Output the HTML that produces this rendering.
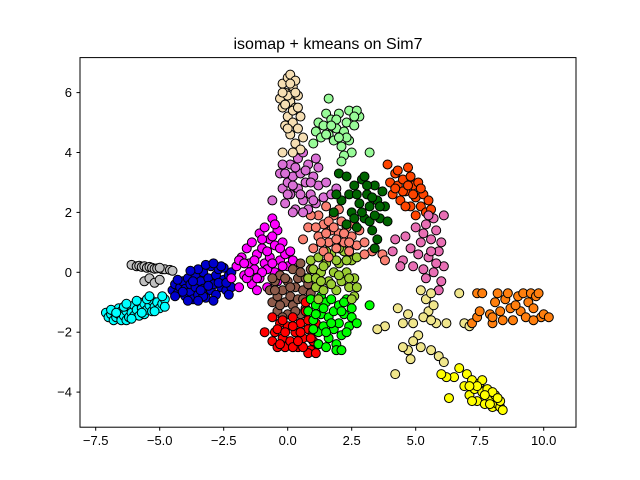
<!DOCTYPE html>
<html><head><meta charset="utf-8"><style>
body{margin:0;background:#fff;}
svg{display:block;font-family:"Liberation Sans","DejaVu Sans",sans-serif;}
</style></head><body>
<svg id="chart" width="640" height="480" viewBox="0 0 640 480">
<rect x="0" y="0" width="640" height="480" fill="#fff"/>
<text x="328" y="49" text-anchor="middle" font-size="16">isomap + kmeans on Sim7</text>
<g id="points"></g>
<rect x="80" y="57.6" width="496" height="369.6" fill="none" stroke="#000" stroke-width="1"/>
<g id="axes"></g>
</svg>
<script>
const xTicks=[-7.5,-5,-2.5,0,2.5,5,7.5,10];
const xTickLabels=["\u22127.5","\u22125.0","\u22122.5","0.0","2.5","5.0","7.5","10.0"];
const yTicks=[-4,-2,0,2,4,6];
const yTickLabels=["\u22124","\u22122","0","2","4","6"];
const clusterNames=["gray","cyan","blue","magenta","brown","red","lime","yellowgreen","salmon","orchid","palegreen","wheat","darkgreen","orangered","hotpink","khaki","yellow","darkorange"];
const clusterColors=["#c0c0c0","#00ffff","#0000cd","#ff00ff","#8b5a4a","#ff0000","#00ff00","#9acd32","#fa8072","#da70d6","#98fb98","#f5deb3","#006400","#ff4500","#e86fb4","#f0e68c","#ffff00","#ff7f0e"];
const gray=[[-6.1,0.25],[-5.9,0.2],[-5.8,0.22],[-5.7,0.18],[-5.6,0.2],[-5.5,0.15],[-5.4,0.18],[-5.3,0.15],[-5.2,0.12],[-5.1,0.13],[-4.9,0.1],[-4.8,0.1],[-4.6,0.08],[-4.5,0.05],[-5.0,0.15],[-5.6,-0.3],[-5.4,-0.2],[-5.2,-0.35],[-5.0,-0.25]];
const cyan=[[-7.1,-1.35],[-7.0,-1.5],[-6.9,-1.4],[-6.8,-1.3],[-6.8,-1.6],[-6.7,-1.5],[-6.6,-1.4],[-6.6,-1.2],[-6.5,-1.6],[-6.5,-1.3],[-6.4,-1.45],[-6.3,-1.3],[-6.3,-1.6],[-6.2,-1.5],[-6.2,-1.15],[-6.1,-1.35],[-6.0,-1.45],[-6.0,-1.1],[-5.9,-1.25],[-5.8,-1.0],[-5.8,-1.45],[-5.7,-1.2],[-5.6,-1.05],[-5.6,-1.4],[-5.5,-1.25],[-5.4,-1.1],[-5.3,-0.95],[-5.3,-1.3],[-5.2,-1.15],[-5.1,-1.0],[-5.0,-1.2],[-4.9,-1.05],[-4.8,-0.9],[-6.9,-1.25],[-6.4,-1.15],[-5.9,-0.95],[-5.5,-0.9],[-6.7,-1.35],[-6.1,-1.55],[-5.7,-1.35],[-5.2,-1.3],[-4.8,-1.15],[-4.9,-0.8],[-6.3,-1.05],[-5.4,-0.8]];
const blue=[[-4.5,-0.6],[-4.4,-0.4],[-4.3,-0.7],[-4.2,-0.5],[-4.1,-0.3],[-4.0,-0.8],[-4.0,-0.55],[-3.9,-0.2],[-3.8,-0.65],[-3.8,-0.4],[-3.7,-0.9],[-3.6,-0.1],[-3.6,-0.5],[-3.5,-0.75],[-3.4,-0.3],[-3.3,-0.55],[-3.3,0.0],[-3.2,-0.85],[-3.1,-0.2],[-3.0,-0.6],[-3.0,0.2],[-2.9,-0.4],[-2.8,-0.1],[-2.8,-0.75],[-2.7,0.1],[-2.6,-0.5],[-2.5,-0.25],[-2.5,0.15],[-2.4,-0.6],[-2.3,-0.1],[-2.2,0.0],[-2.2,-0.5],[-3.5,0.1],[-3.9,-0.95],[-4.3,-0.25],[-2.9,-0.95],[-3.3,-0.8],[-2.6,0.2],[-4.1,-0.65],[-3.7,-0.3],[-3.4,-0.6],[-3.1,-0.45],[-2.7,-0.35],[-3.2,0.25],[-2.9,0.3],[-3.8,0.05],[-2.4,-0.35],[-3.5,-0.95],[-4.4,-0.8],[-2.3,-0.75]];
const magenta=[[-2.2,-0.2],[-2.0,0.2],[-1.9,-0.5],[-1.8,0.5],[-1.7,-0.1],[-1.6,0.8],[-1.5,0.3],[-1.4,-0.4],[-1.4,1.0],[-1.3,0.1],[-1.2,0.6],[-1.1,1.3],[-1.1,-0.2],[-1.0,0.8],[-0.9,0.3],[-0.9,1.5],[-0.8,-0.5],[-0.7,1.1],[-0.7,0.5],[-0.6,1.8],[-0.5,0.0],[-0.5,0.9],[-0.4,1.4],[-0.3,0.4],[-0.2,1.0],[-0.1,0.6],[0.0,0.2],[0.1,0.7],[0.2,0.4],[-1.6,-0.2],[-1.2,-0.6],[-0.4,-0.3],[-1.9,0.4],[-0.8,0.1],[-1.5,0.0],[-1.3,0.4],[-1.0,0.0],[-0.8,0.7],[-0.6,1.2],[-0.3,0.8],[-1.0,1.1],[-0.6,0.3],[-1.7,0.3],[-1.2,-0.2],[-0.2,0.2],[-0.5,1.6]];
const brown=[[-0.7,-0.6],[-0.6,-1.0],[-0.5,-0.3],[-0.4,-0.8],[-0.4,-1.3],[-0.3,-0.1],[-0.2,-0.6],[-0.1,-1.0],[0.0,-0.3],[0.0,-1.4],[0.1,-0.8],[0.2,0.1],[0.2,-1.1],[0.3,-0.5],[0.4,-0.2],[0.4,-0.9],[0.5,0.3],[0.6,-0.6],[0.7,-0.2],[0.7,-1.2],[0.9,0.1],[0.9,-0.7],[-0.2,-1.5],[0.5,-1.4],[-0.6,-0.2],[-0.3,-1.1],[0.1,-0.5],[0.3,-1.3],[0.6,-0.9],[0.8,-0.4],[-0.1,-0.2],[0.5,0.0],[-0.5,-0.6]];
const red=[[-0.9,-2.0],[-0.6,-2.3],[-0.6,-1.5],[-0.5,-2.0],[-0.4,-2.5],[-0.3,-1.7],[-0.2,-2.2],[-0.1,-2.5],[0.0,-1.8],[0.1,-2.3],[0.2,-1.5],[0.3,-2.0],[0.4,-2.5],[0.5,-1.7],[0.6,-2.2],[0.7,-1.3],[0.8,-1.9],[0.9,-2.6],[1.0,-2.3],[1.1,-1.7],[1.2,-2.4],[0.8,-2.7],[1.1,-2.7],[-0.3,-2.4],[0.2,-2.5],[0.6,-2.5],[0.7,-1.0],[-0.4,-1.9],[-0.1,-2.0],[0.2,-1.8],[0.5,-2.0],[0.8,-1.6],[1.0,-2.0],[-0.2,-1.6],[0.4,-2.3],[0.9,-2.2]];
const lime=[[0.8,-1.3],[0.9,-0.9],[1.0,-1.6],[1.1,-1.1],[1.2,-2.0],[1.3,-0.8],[1.3,-1.4],[1.4,-1.8],[1.5,-1.0],[1.6,-2.2],[1.6,-1.5],[1.7,-0.9],[1.8,-1.3],[1.8,-1.9],[1.9,-2.4],[2.0,-1.1],[2.0,-1.7],[2.1,-2.1],[2.2,-1.4],[2.3,-0.9],[2.4,-1.8],[2.5,-1.2],[2.5,-1.5],[1.9,-2.6],[2.1,-2.6],[3.2,-1.1],[2.7,-1.7],[1.2,-2.4],[1.5,-2.5],[1.1,-1.4],[1.4,-1.2],[1.7,-1.7],[2.1,-1.3],[2.3,-2.0],[1.5,-2.0],[2.2,-1.0],[1.0,-1.9]];
const yellowgreen=[[0.8,-0.2],[0.9,0.4],[1.0,0.1],[1.1,-0.5],[1.2,0.5],[1.3,0.0],[1.4,-0.6],[1.5,0.3],[1.6,-0.3],[1.7,0.6],[1.8,0.0],[1.9,-0.6],[2.0,0.3],[2.1,-0.3],[2.2,0.7],[2.3,0.0],[2.4,-0.5],[2.5,0.4],[2.6,-0.2],[2.6,-0.8],[2.7,0.5],[2.7,-0.5],[2.5,-0.9],[1.2,-0.9],[2.0,0.8],[1.5,0.7],[1.1,-0.2],[1.4,0.2],[1.7,-0.4],[2.0,-0.1],[2.3,0.4],[2.4,-0.2],[1.9,0.4],[1.3,-0.3]];
const salmon=[[0.6,1.1],[0.8,1.5],[1.0,0.8],[1.2,1.2],[1.2,1.9],[1.4,0.7],[1.4,1.6],[1.5,2.2],[1.6,1.0],[1.7,1.4],[1.8,1.9],[1.9,0.8],[2.0,1.3],[2.1,1.7],[2.2,1.0],[2.3,1.5],[2.4,0.7],[2.5,1.2],[2.7,0.9],[2.8,1.4],[3.0,1.0],[3.3,0.7],[3.7,0.6],[3.8,0.4],[1.6,0.5],[2.0,2.1],[0.9,1.9],[3.0,0.6],[1.1,1.5],[1.3,1.0],[1.6,1.7],[1.9,1.1],[2.2,1.3],[2.6,1.6],[1.5,1.3],[2.4,1.0],[1.8,1.5]];
const orchid=[[-0.6,2.4],[-0.3,3.3],[-0.2,2.8],[-0.1,2.3],[0.0,3.0],[0.1,3.6],[0.1,2.6],[0.2,3.2],[0.3,2.1],[0.4,2.8],[0.4,3.8],[0.5,3.3],[0.6,2.4],[0.7,3.0],[0.8,3.6],[0.9,2.6],[1.0,3.2],[1.1,2.3],[1.2,2.9],[1.2,3.5],[1.4,2.5],[1.5,3.0],[1.7,2.6],[1.9,2.8],[0.2,2.0],[-0.2,3.6],[0.6,4.0],[0.8,2.1],[0.0,2.6],[0.3,3.5],[0.5,2.6],[0.7,3.4],[0.9,3.0],[1.0,2.4],[0.2,2.9],[0.6,2.0],[-0.1,3.3],[1.1,3.8]];
const palegreen=[[1.0,4.3],[1.1,4.7],[1.2,5.0],[1.3,4.5],[1.4,4.9],[1.5,5.3],[1.6,4.6],[1.7,5.1],[1.8,4.4],[1.9,4.8],[2.0,5.3],[2.1,4.2],[2.2,4.7],[2.3,5.0],[2.4,5.4],[2.4,4.4],[2.5,4.0],[2.6,4.9],[2.2,3.9],[1.6,5.8],[2.8,5.2],[3.2,4.0],[2.7,5.4],[2.1,3.7],[1.5,4.6],[1.9,5.1],[2.3,4.5],[1.7,4.9],[2.0,4.5],[2.6,5.2]];
const wheat=[[-0.3,5.8],[-0.2,6.3],[-0.2,5.5],[-0.1,6.0],[-0.1,4.9],[0.0,6.5],[0.0,5.2],[0.1,5.7],[0.1,4.6],[0.2,6.2],[0.2,5.0],[0.3,5.5],[0.3,4.3],[0.4,5.9],[0.4,4.8],[0.5,5.2],[0.5,4.1],[0.6,4.5],[0.1,6.6],[-0.2,4.0],[0.3,6.4],[0.2,4.0],[-0.1,5.6],[0.0,5.9],[0.2,5.4],[0.3,6.0],[0.0,4.8],[0.4,5.5],[-0.2,6.0],[0.1,6.3]];
const darkgreen=[[1.8,2.0],[2.0,3.3],[2.1,2.4],[2.3,1.6],[2.4,2.6],[2.5,2.0],[2.6,2.9],[2.7,1.5],[2.8,2.3],[2.9,3.1],[3.0,1.8],[3.1,2.6],[3.2,2.2],[3.3,1.4],[3.4,2.9],[3.5,2.4],[3.6,1.8],[3.7,2.7],[3.8,2.2],[3.5,1.1],[3.4,0.8],[3.9,1.7],[2.3,3.2],[1.9,2.6],[3.0,3.2],[2.7,2.6],[2.9,2.0],[3.2,1.7],[3.3,2.5],[3.6,2.2],[2.6,1.8],[3.1,2.9],[3.4,1.9]];
const orangered=[[3.9,3.6],[4.0,3.0],[4.1,2.6],[4.2,3.3],[4.3,2.9],[4.4,2.4],[4.5,3.1],[4.6,2.7],[4.7,3.5],[4.8,2.2],[4.9,2.9],[5.0,2.5],[5.1,3.0],[5.2,2.2],[5.3,2.6],[5.4,2.0],[5.5,2.4],[5.6,2.1],[5.0,1.9],[4.6,2.2],[4.3,3.4],[4.5,2.7],[4.8,3.2],[4.9,2.6],[5.2,2.8],[4.2,2.8],[4.7,2.9]];
const hotpink=[[4.1,0.7],[4.2,1.1],[4.5,0.4],[4.6,1.2],[4.8,0.8],[4.9,0.2],[5.0,1.5],[5.1,0.6],[5.2,1.0],[5.3,0.1],[5.4,1.6],[5.5,0.5],[5.6,1.1],[5.7,0.0],[5.8,1.4],[5.9,0.7],[6.0,1.0],[6.1,0.2],[6.0,-0.3],[5.9,-0.6],[5.4,-0.2],[4.4,0.2],[6.1,1.9],[5.7,1.8],[5.3,1.3],[5.6,0.7],[5.8,0.3],[5.5,1.9]];
const khaki=[[5.2,-0.6],[5.4,-0.9],[5.6,-0.7],[5.5,-1.3],[5.7,-1.1],[5.8,-1.7],[5.3,-1.5],[5.6,-1.6],[5.1,-2.1],[4.9,-2.3],[4.7,-2.6],[4.8,-2.9],[4.5,-2.5],[5.2,-2.5],[5.6,-2.6],[5.9,-2.8],[6.1,-3.0],[4.2,-3.4],[4.5,-1.7],[4.9,-1.7],[4.3,-1.2],[4.7,-1.4],[3.8,-1.8],[3.5,-1.9],[6.7,-0.7],[6.9,-1.7],[7.1,-1.8],[6.2,-1.7]];
const yellow=[[6.3,-4.2],[6.5,-3.5],[6.7,-3.2],[6.9,-3.8],[7.0,-3.4],[7.1,-4.1],[7.2,-3.6],[7.3,-3.9],[7.4,-4.3],[7.5,-3.7],[7.6,-4.0],[7.7,-4.4],[7.8,-3.9],[7.9,-4.2],[8.0,-4.5],[8.1,-4.1],[8.2,-4.4],[8.3,-4.5],[8.4,-4.6],[8.3,-4.3],[7.2,-4.3],[6.2,-3.5],[6.0,-3.4],[7.6,-3.6],[8.0,-4.0],[7.4,-3.8],[7.7,-4.1],[7.9,-4.4],[8.2,-4.2],[7.1,-3.8]];
const darkorange=[[7.2,-1.7],[7.4,-1.5],[7.5,-1.3],[7.4,-0.7],[7.6,-0.7],[7.9,-1.4],[8.0,-1.7],[8.1,-1.0],[8.2,-0.7],[8.3,-1.3],[8.4,-1.6],[8.5,-0.9],[8.6,-0.7],[8.7,-1.2],[8.8,-1.6],[9.0,-0.8],[9.1,-1.3],[9.2,-0.7],[9.3,-1.5],[9.4,-1.0],[9.5,-0.7],[9.6,-1.2],[9.7,-0.8],[9.8,-0.7],[9.9,-1.5],[10.0,-1.4],[10.2,-1.5],[8.0,-1.5],[9.6,-1.6],[8.9,-1.1]];
const clusterData=[gray,cyan,blue,magenta,brown,red,lime,yellowgreen,salmon,orchid,palegreen,wheat,darkgreen,orangered,hotpink,khaki,yellow,darkorange];

const NS="http://www.w3.org/2000/svg";
function sx(v){return 287.7+v*25.6;}
function sy(v){return 272.3-v*29.95;}
const pts=document.getElementById('points');
clusterData.forEach((arr,ci)=>{
  const g=document.createElementNS(NS,'g');
  
  
  arr.forEach(p=>{
    const c=document.createElementNS(NS,'circle');
    
    
    c.setAttribute('cx',sx(p[0]));c.setAttribute('cy',sy(p[1]));c.setAttribute('r',4.5);
    c.setAttribute('fill',clusterColors[ci]);c.setAttribute('stroke','#000');c.setAttribute('stroke-width','1');
    g.appendChild(c);
  });
  pts.appendChild(g);
});
const ax=document.getElementById('axes');
xTicks.forEach((t,i)=>{
  const l=document.createElementNS(NS,'line');
  
  
  l.setAttribute('x1',sx(t));l.setAttribute('x2',sx(t));l.setAttribute('y1',427.2);l.setAttribute('y2',430.7);l.setAttribute('stroke','#000');
  ax.appendChild(l);
  const tx=document.createElementNS(NS,'text');
  
  
  tx.setAttribute('x',sx(t));tx.setAttribute('y',445);tx.setAttribute('text-anchor','middle');tx.setAttribute('font-size','13');
  tx.textContent=xTickLabels[i];ax.appendChild(tx);
});
yTicks.forEach((t,i)=>{
  const l=document.createElementNS(NS,'line');
  
  
  l.setAttribute('x1',76.5);l.setAttribute('x2',80);l.setAttribute('y1',sy(t));l.setAttribute('y2',sy(t));l.setAttribute('stroke','#000');
  ax.appendChild(l);
  const tx=document.createElementNS(NS,'text');
  
  
  tx.setAttribute('x',72);tx.setAttribute('y',sy(t)+4.5);tx.setAttribute('text-anchor','end');tx.setAttribute('font-size','13');
  tx.textContent=yTickLabels[i];ax.appendChild(tx);
});
</script>
</body></html>
